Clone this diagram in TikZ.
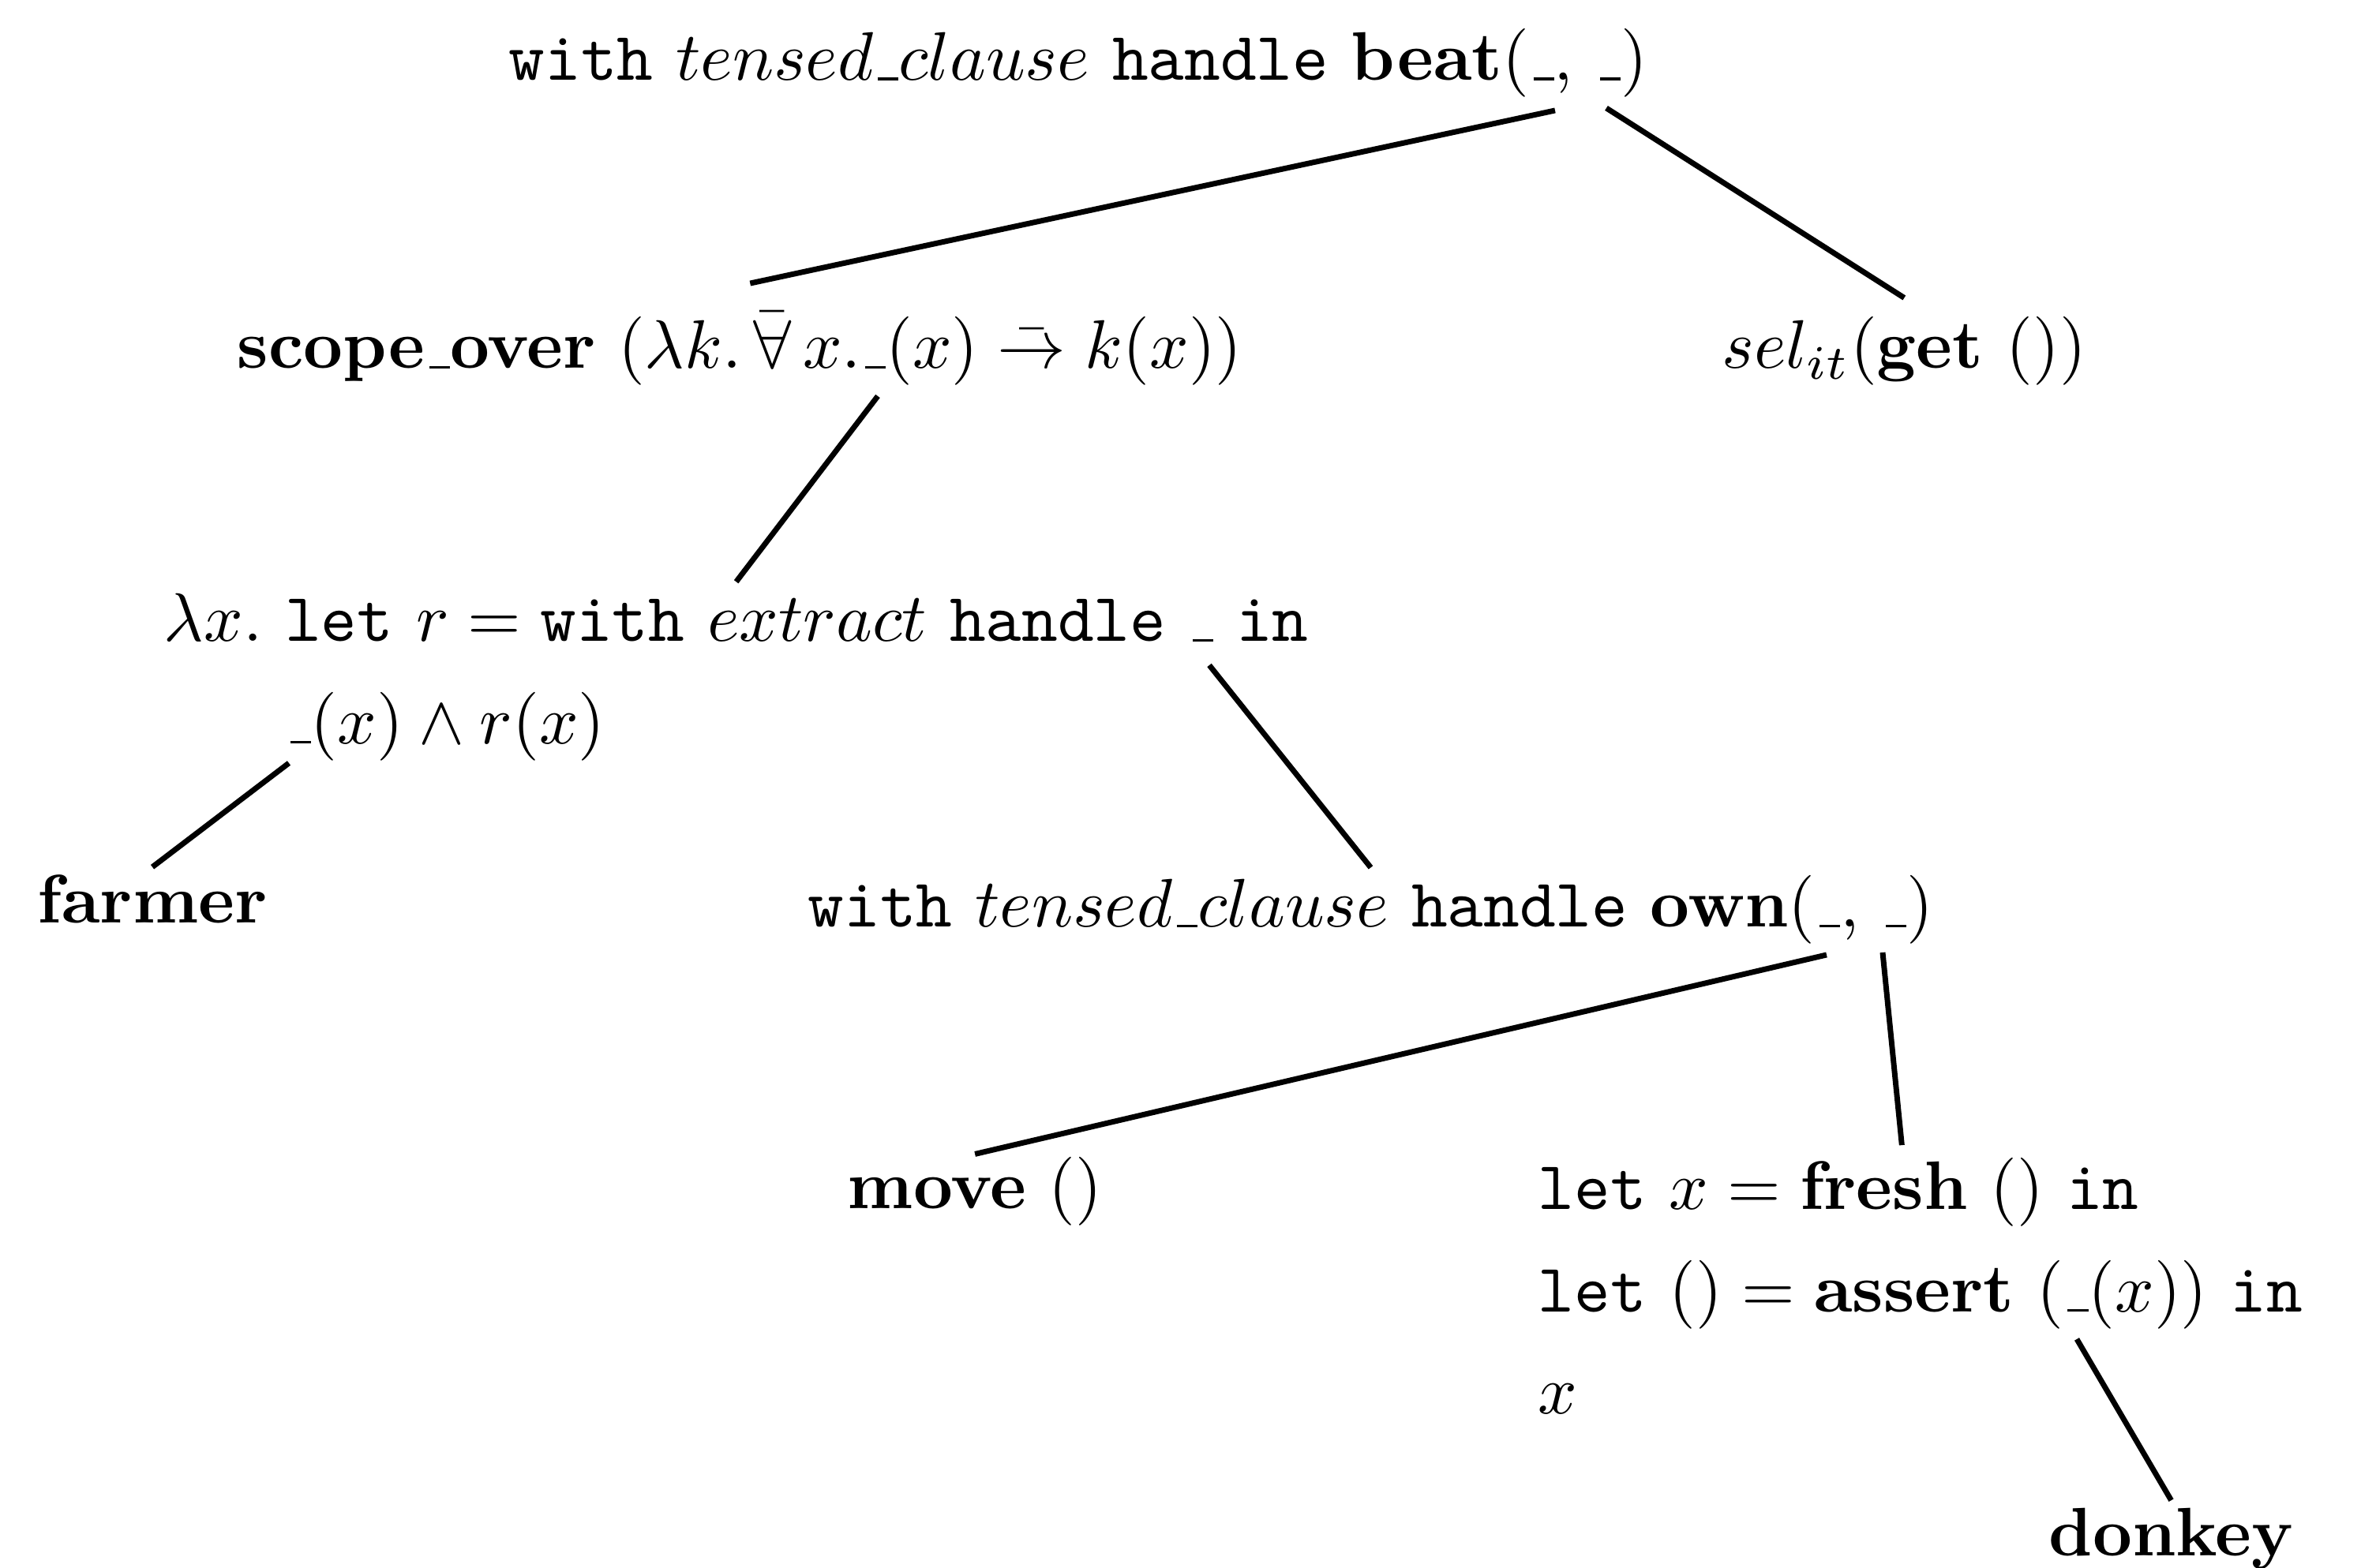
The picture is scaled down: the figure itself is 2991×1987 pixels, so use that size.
\documentclass[tikz,border=0pt]{standalone}
\renewcommand{\arraystretch}{1.24}
% short low bar used as a placeholder
\newcommand{\us}{\leavevmode\kern.06em\vbox{\hrule width.3em}}
\begin{document}
\begin{tikzpicture}[x=0.00405cm, y=-0.00405cm,
  lbl/.style={anchor=base west, inner xsep=0pt, inner ysep=1pt},
  edge/.style={line width=0.8pt}]
\useasboundingbox (0,0) rectangle (2991,1987);

% nodes of the tree
\node[lbl] (root) at (643,102)
  {\texttt{with} $tensed\us clause$ \texttt{handle} \textbf{beat}(\us, \us)};
\node[lbl] (scope) at (299,467)
  {\textbf{scope\us over} $(\lambda k.\,\bar{\forall}\,x.\us(x)\mathrel{\bar{\to}}k(x))$};
\node[lbl] (sel) at (2180,467) {$sel_{it}$(\textbf{get} ())};
\node[lbl] (lam) at (206,813)
  {\begin{tabular}[t]{@{}l@{}}
   $\lambda x.$ \texttt{let} $r = {}$\texttt{with} $extract$ \texttt{handle} \us{} \texttt{in}\\
   \hspace*{17.8pt}$\us(x)\wedge r(x)$
   \end{tabular}};
\node[lbl] (farmer) at (46,1170) {\textbf{farmer}};
\node[lbl] (own) at (1022,1175)
  {\texttt{with} $tensed\us clause$ \texttt{handle} \textbf{own}(\us, \us)};
\node[lbl] (move) at (1072,1532) {\textbf{move} ()};
\node[lbl] (fresh) at (1947,1533)
  {\begin{tabular}[t]{@{}l@{}}
   \texttt{let} $x = {}$\textbf{fresh} () \texttt{in}\\
   \texttt{let} $() = {}$\textbf{assert} $(\us(x))$ \texttt{in}\\
   $x$
   \end{tabular}};
\node[lbl] (donkey) at (2594,1972) {\textbf{donkey}};

% placeholders that the branches hang from
\coordinate (root-a) at (1970,140);
\coordinate (root-b) at (2035,137);
\coordinate (scope-a) at (1112,502);
\coordinate (lam-a) at (1532,843);
\coordinate (lam-b) at (366,967);
\coordinate (own-a) at (2314,1210);
\coordinate (own-b) at (2385,1207);
\coordinate (fresh-a) at (2631,1697);

% branches
\draw[edge] (root-a) -- ([xshift=1.5pt,yshift=2.9pt]scope.north);
\draw[edge] (root-b) -- ([yshift=1.6pt]sel.north);
\draw[edge] (scope-a) -- ([yshift=-2.9pt]lam.north);
\draw[edge] (lam-a) -- (own.north);
\draw[edge] (lam-b) -- (farmer.north);
\draw[edge] (own-a) -- ([yshift=-0.7pt]move.north);
\draw[edge] (own-b) -- ([xshift=-2.7pt,yshift=-2.2pt]fresh.north);
\draw[edge] (fresh-a) -- (donkey.north);
\end{tikzpicture}
\end{document}
